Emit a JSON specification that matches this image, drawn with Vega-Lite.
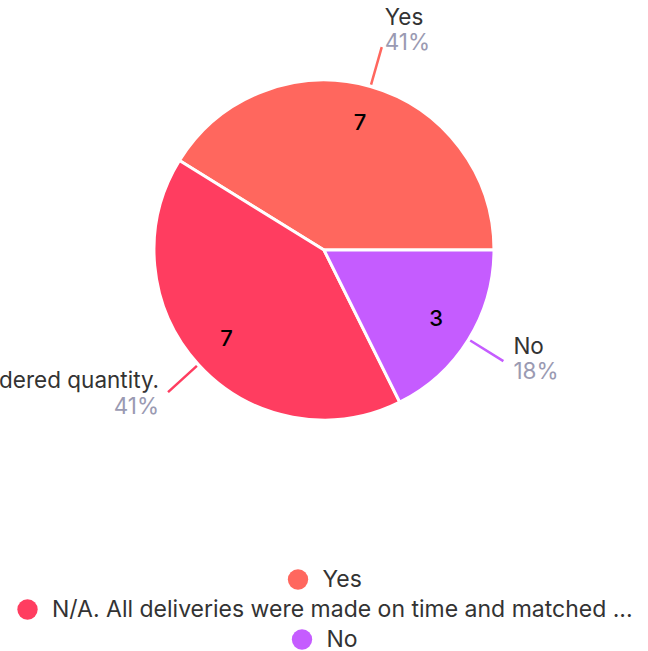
{
  "$schema": "https://vega.github.io/schema/vega-lite/v6.json",
  "width": 648,
  "height": 500,
  "autosize": "none",
  "padding": {"left": 0, "top": 0, "right": 0, "bottom": 151},
  "background": "white",
  "data": {
    "values": [
      {"category": "Yes", "count": 7, "pct": "41%"},
      {"category": "N/A. All deliveries were made on time and matched the ordered quantity.", "count": 7, "pct": "41%"},
      {"category": "No", "count": 3, "pct": "18%"}
    ]
  },
  "encoding": {
    "theta": {"field": "count", "type": "quantitative", "stack": true, "scale": {"range": [-1.0164, 5.26679]}},
    "order": {"field": "category", "type": "nominal", "sort": "descending"}
  },
  "resolve": {"scale": {"color": "independent"}, "legend": {"color": "independent"}},
  "layer": [
    {
      "mark": {"type": "arc", "outerRadius": 170, "stroke": "white", "strokeWidth": 3},
      "encoding": {
        "color": {
          "field": "category", "type": "nominal",
          "scale": {"domain": ["Yes", "N/A. All deliveries were made on time and matched the ordered quantity.", "No"], "range": ["#ff675e", "#ff3d60", "#c55cff"]},
          "legend": {"values": ["Yes"], "title": null, "orient": "bottom"}
        }
      }
    },
    {
      "mark": {"type": "arc", "outerRadius": 170, "opacity": 0},
      "encoding": {
        "color": {
          "field": "category", "type": "nominal",
          "scale": {"domain": ["Yes", "N/A. All deliveries were made on time and matched the ordered quantity.", "No"], "range": ["#ff675e", "#ff3d60", "#c55cff"]},
          "legend": {"values": ["N/A. All deliveries were made on time and matched the ordered quantity."], "title": null, "orient": "bottom", "symbolOpacity": 1, "labelExpr": "'N/A. All deliveries were made on time and matched ...'"}
        }
      }
    },
    {
      "mark": {"type": "arc", "outerRadius": 170, "opacity": 0},
      "encoding": {
        "color": {
          "field": "category", "type": "nominal",
          "scale": {"domain": ["Yes", "N/A. All deliveries were made on time and matched the ordered quantity.", "No"], "range": ["#ff675e", "#ff3d60", "#c55cff"]},
          "legend": {"values": ["No"], "title": null, "orient": "bottom", "symbolOpacity": 1}
        }
      }
    },
    {
      "mark": {"type": "arc", "filled": false, "innerRadius": 172, "outerRadius": 211, "padAngle": 3, "strokeWidth": 2.5},
      "encoding": {
        "color": {
          "field": "category", "type": "nominal",
          "scale": {"domain": ["Yes", "N/A. All deliveries were made on time and matched the ordered quantity.", "No"], "range": ["#ff675e", "#ff3d60", "#c55cff"]},
          "legend": null
        }
      }
    },
    {
      "mark": {"type": "text", "radius": 132, "fontSize": 22, "font": "Inter", "fontWeight": 500, "baseline": "middle"},
      "encoding": {
        "text": {"field": "count", "type": "quantitative"},
        "detail": {"field": "category", "type": "nominal"},
        "color": {"value": "black"}
      }
    },
    {
      "mark": {"type": "text", "radius": 211, "fontSize": 22.5, "font": "Inter", "align": "left", "baseline": "middle", "dx": 3, "dy": -29},
      "encoding": {
        "text": {"condition": {"test": "datum.category === 'Yes'", "field": "category", "type": "nominal"}, "value": ""},
        "detail": {"field": "category", "type": "nominal"},
        "color": {"value": "#333333"}
      }
    },
    {
      "mark": {"type": "text", "radius": 211, "fontSize": 22.5, "font": "Inter", "align": "left", "baseline": "middle", "dx": 3, "dy": -4},
      "encoding": {
        "text": {"condition": {"test": "datum.category === 'Yes'", "field": "pct", "type": "nominal"}, "value": ""},
        "detail": {"field": "category", "type": "nominal"},
        "color": {"value": "#9a9ab2"}
      }
    },
    {
      "mark": {"type": "text", "radius": 211, "fontSize": 22.5, "font": "Inter", "align": "left", "baseline": "middle", "dx": 10, "dy": -14},
      "encoding": {
        "text": {"condition": {"test": "datum.category === 'No'", "field": "category", "type": "nominal"}, "value": ""},
        "detail": {"field": "category", "type": "nominal"},
        "color": {"value": "#333333"}
      }
    },
    {
      "mark": {"type": "text", "radius": 211, "fontSize": 22.5, "font": "Inter", "align": "left", "baseline": "middle", "dx": 10, "dy": 11},
      "encoding": {
        "text": {"condition": {"test": "datum.category === 'No'", "field": "pct", "type": "nominal"}, "value": ""},
        "detail": {"field": "category", "type": "nominal"},
        "color": {"value": "#9a9ab2"}
      }
    },
    {
      "mark": {"type": "text", "radius": 211, "fontSize": 22.5, "font": "Inter", "align": "right", "baseline": "middle", "dx": -9, "dy": -11},
      "encoding": {
        "text": {"condition": {"test": "datum.category !== 'Yes' && datum.category !== 'No'", "field": "category", "type": "nominal"}, "value": ""},
        "detail": {"field": "category", "type": "nominal"},
        "color": {"value": "#333333"}
      }
    },
    {
      "mark": {"type": "text", "radius": 211, "fontSize": 22.5, "font": "Inter", "align": "right", "baseline": "middle", "dx": -9, "dy": 15},
      "encoding": {
        "text": {"condition": {"test": "datum.category !== 'Yes' && datum.category !== 'No'", "field": "pct", "type": "nominal"}, "value": ""},
        "detail": {"field": "category", "type": "nominal"},
        "color": {"value": "#9a9ab2"}
      }
    }
  ],
  "config": {
    "view": {"stroke": null},
    "legend": {
      "orient": "bottom",
      "offset": 68,
      "padding": 0,
      "labelFont": "Inter",
      "labelFontSize": 23,
      "labelColor": "#333333",
      "labelOffset": 13,
      "labelLimit": 900,
      "symbolType": "circle",
      "symbolSize": 415,
      "symbolStrokeWidth": 0,
      "layout": {"bottom": {"anchor": "middle", "direction": "vertical", "center": true, "margin": 6}}
    }
  }
}
